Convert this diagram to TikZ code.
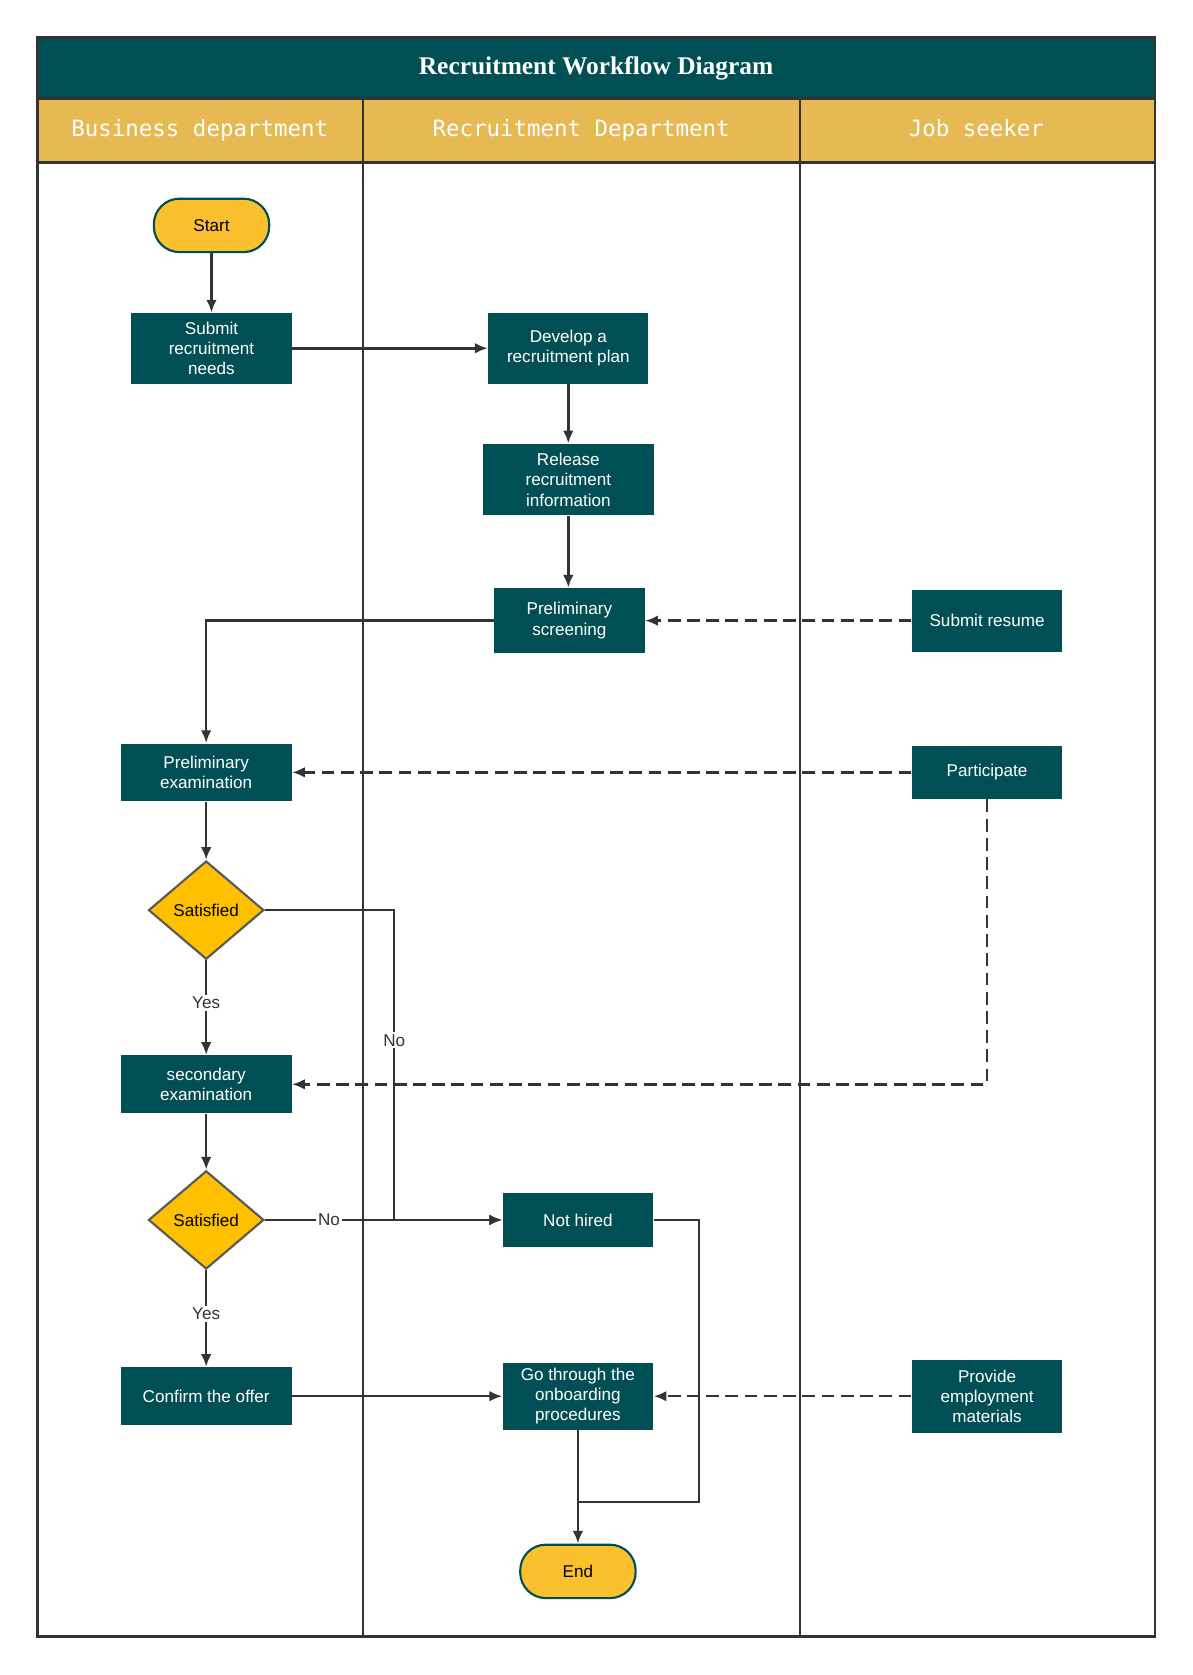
\documentclass[tikz,border=0pt]{standalone}
\usepackage{fontspec}
\setmainfont{Liberation Sans}
\newfontfamily\monof{DejaVu Sans Mono}
\newfontfamily\titlef{Liberation Serif}
\usetikzlibrary{shapes.geometric,arrows.meta}
\definecolor{teal}{HTML}{004F55}
\definecolor{hdr}{HTML}{E6B953}
\definecolor{ylw}{HTML}{FBC02D}
\definecolor{dia}{HTML}{FFC000}
\definecolor{ln}{HTML}{333333}
\begin{document}
\begin{tikzpicture}[x=0.5pt,y=-0.5pt,
 box/.style={draw=none,fill=teal,text=white,font=\fontsize{8}{9.5}\selectfont,align=center,minimum width=#1*0.5pt,inner sep=1pt},
 term/.style={rounded corners=12pt,draw=teal,line width=1pt,fill=ylw,font=\fontsize{8}{9.5}\selectfont,minimum width=54pt,minimum height=25pt},
 dec/.style={diamond,aspect=1.17,draw=gray!70!black,line width=1pt,fill=dia,font=\fontsize{8}{9.5}\selectfont,minimum width=54pt,minimum height=46pt,inner sep=0pt},
 ar/.style={draw=ln,line width=1.2pt,-{Latex[length=6pt,width=5pt]}},
 da/.style={ar,dashed,dash pattern=on 6pt off 3pt},
 lbl/.style={fill=white,inner sep=1pt,font=\fontsize{8}{9.5}\selectfont,text=ln}]
\useasboundingbox (0,0) rectangle (1116,1568);
\fill[teal] (35,35) rectangle (1081,92);
\node[text=white,font=\titlef\bfseries\fontsize{11.9}{14}\selectfont] (title) at (558,64) {Recruitment Workflow Diagram};
\fill[hdr] (35,92) rectangle (1081,152);
\draw[ln,line width=1.2pt] (35,35) rectangle (1081,1532);
\draw[ln,line width=1.2pt] (35,92) -- (1081,92) (35,152) -- (1081,152) (340,92) -- (340,1532) (749,92) -- (749,1532);
\node[text=white,font=\monof\fontsize{10.5}{12}\selectfont,text height=8pt,text depth=2pt] (h1) at (187,122) {Business department};
\node[text=white,font=\monof\fontsize{10.5}{12}\selectfont,text height=8pt,text depth=2pt] (h2) at (544,122) {Recruitment Department};
\node[text=white,font=\monof\fontsize{10.5}{12}\selectfont,text height=8pt,text depth=2pt] (h3) at (914,122) {Job seeker};

\node[term] (start) at (198,211) {Start};
\node[box=150,minimum height=33pt] (sub) at (198,326) {Submit\\recruitment\\needs};
\node[box=150,minimum height=33pt] (dev) at (532,326) {Develop a\\recruitment plan};
\node[box=160,minimum height=33.5pt] (rel) at (532,449) {Release\\recruitment\\information};
\node[box=141,minimum height=30.5pt] (scr) at (533,581) {Preliminary\\screening};
\node[box=141,minimum height=29pt] (res) at (924,581) {Submit resume};
\node[box=160,minimum height=27pt] (pe) at (193,723) {Preliminary\\examination};
\node[box=141,minimum height=25pt] (par) at (924,723) {Participate};
\node[dec] (s1) at (193,852) {Satisfied};
\node[box=160,minimum height=27pt] (se) at (193,1015) {secondary\\examination};
\node[dec] (s2) at (193,1142) {Satisfied};
\node[box=141,minimum height=25pt] (nh) at (541,1142) {Not hired};
\node[box=160,minimum height=27pt] (co) at (193,1307) {Confirm the offer};
\node[box=141,minimum height=31.5pt] (go) at (541,1307) {Go through the\\onboarding\\procedures};
\node[box=141,minimum height=34pt] (pr) at (924,1307) {Provide\\employment\\materials};
\node[term] (end) at (541,1471) {End};

\draw[ar] (start) -- (sub);
\draw[ar] (sub) -- (dev);
\draw[ar] (dev) -- (rel);
\draw[ar] (rel) -- (rel|-scr.north);
\draw[ar] (scr.west) -| (pe.north);
\draw[da] (res) -- (scr);
\draw[da] (par) -- (pe);
\draw[da] (par.south) |- (se.east);
\draw[ar] (pe) -- (s1);
\draw[ar] (s1) -- node[lbl,pos=0.45]{Yes} (se);
\coordinate (k1) at (369,852);
\coordinate (k2) at (369,1142);
\draw[ar,line width=0.9pt] (s1.east) -- (k1) -- node[lbl,pos=0.42]{No} (k2) -- (nh.west);
\draw[ar] (s2.east) -- node[lbl,pos=0.27]{No} (nh.west);
\draw[ar] (se) -- (s2);
\draw[ar] (s2) -- node[lbl,pos=0.45]{Yes} (co);
\draw[ar] (co) -- (go);
\draw[da] (pr) -- (go);
\draw[ar] (go) -- (end);
\coordinate (m1) at (654,1142);
\coordinate (m2) at (654,1406);
\coordinate (m3) at (541,1406);
\draw[ln,line width=1pt] (nh.east) -- (m1) -- (m2) -- (m3);
\end{tikzpicture}
\end{document}
